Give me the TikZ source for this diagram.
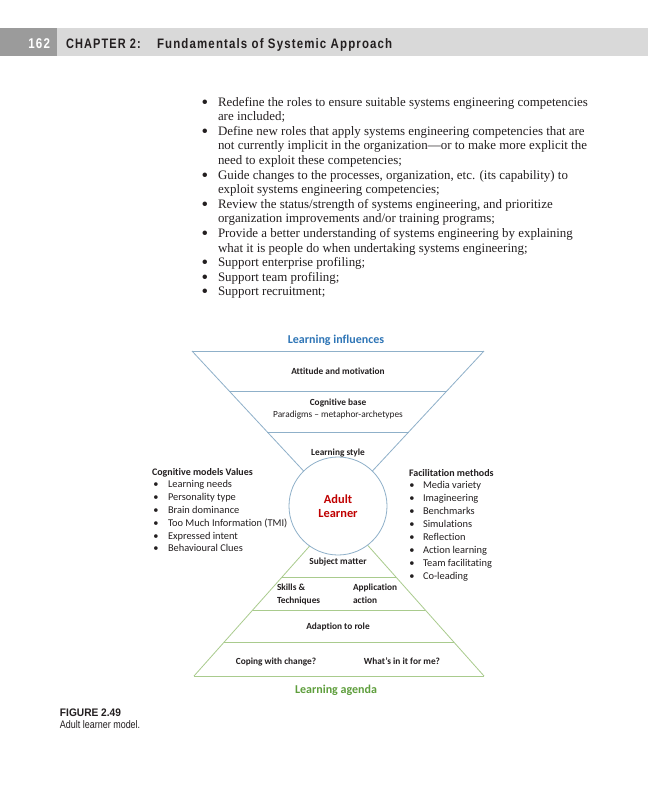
\documentclass[tikz,border=0pt]{standalone}
\usepackage{fontspec}
\setmainfont{Liberation Serif}
\newfontfamily\carl[Ligatures=NoCommon]{Carlito}
\newfontfamily\hdrfont[LetterSpace=10]{Liberation Sans}
\newfontfamily\capfont{Liberation Sans}
\definecolor{hdrdark}{HTML}{9B9B9B}
\definecolor{hdrlight}{HTML}{D9D9D9}
\definecolor{ink}{HTML}{231F20}
\definecolor{titleblue}{HTML}{2E75B6}
\definecolor{adultred}{HTML}{C00000}
\definecolor{agendagreen}{HTML}{5E9E3C}
\definecolor{topline}{HTML}{8FB0C9}
\definecolor{botline}{HTML}{A9CB8D}
\tikzset{
  txt/.style={inner sep=0pt, outer sep=0pt, text=ink},
  bodyline/.style={txt, anchor=base west, text height=6.8pt, text depth=1.8pt, font=\fontsize{9.7}{11}\selectfont},
  bodybullet/.style={txt, anchor=base, text height=6.8pt, text depth=1.8pt, font=\fontsize{9.7}{11}\selectfont},
  lab/.style={txt, anchor=base, font=\carl\bfseries\fontsize{7}{8}\selectfont},
  labw/.style={txt, anchor=base west, font=\carl\bfseries\fontsize{7}{8}\selectfont},
  labreg/.style={txt, anchor=base, font=\carl\fontsize{7}{8}\selectfont},
  listtitle/.style={txt, anchor=base west, font=\carl\bfseries\fontsize{7.5}{8}\selectfont},
  listitem/.style={txt, anchor=base west, text height=5.4pt, text depth=1.5pt, font=\carl\fontsize{7.8}{8}\selectfont},
  listbullet/.style={txt, anchor=base, text height=5.4pt, text depth=1.5pt, font=\carl\fontsize{7.8}{8}\selectfont},
  bigtitle/.style={inner sep=0pt, anchor=base, font=\carl\bfseries\fontsize{9}{10}\selectfont},
  tline/.style={draw=topline, line width=0.6pt},
  gline/.style={draw=botline, line width=0.6pt},
}
\newcommand{\bigbul}{\raisebox{-0.35ex}{\scalebox{1.45}{\textbullet}}}
\begin{document}
\begin{tikzpicture}[x=0.75pt,y=-0.75pt]
\useasboundingbox (0,0) rectangle (648,800);
\fill[white] (0,0) rectangle (648,800);
% header
\fill[hdrlight] (0,28) rectangle (648,56);
\fill[hdrdark] (0,28) rectangle (57,56);
\node[txt, anchor=base east, text=white] (pg) at (50,48.5) {\scalebox{0.82}[1]{\hdrfont\bfseries\fontsize{10.6}{12}\selectfont 162}};
\node[txt, anchor=base west] (chap) at (66,48.5) {\scalebox{0.8}[1]{\hdrfont\bfseries\fontsize{10.3}{12}\selectfont CHAPTER 2:}};
\node[txt, anchor=base west] (ctitle) at (157,48.5) {\scalebox{0.835}[1]{\hdrfont\bfseries\fontsize{10.3}{12}\selectfont Fundamentals of Systemic Approach}};
% body bullets
\node[bodybullet] (b1) at (205,106) {\bigbul};
\node[bodyline] (l1) at (218,106) {Redefine the roles to ensure suitable systems engineering competencies};
\node[bodyline] (l2) at (218,120.6) {are included;};
\node[bodybullet] (b2) at (205,135.2) {\bigbul};
\node[bodyline] (l3) at (218,135.2) {Define new roles that apply systems engineering competencies that are};
\node[bodyline] (l4) at (218,149.8) {not currently implicit in the organization---or to make more explicit the};
\node[bodyline] (l5) at (218,164.4) {need to exploit these competencies;};
\node[bodybullet] (b3) at (205,179) {\bigbul};
\node[bodyline] (l6) at (218,179) {Guide changes to the processes, organization, etc. (its capability) to};
\node[bodyline] (l7) at (218,193.6) {exploit systems engineering competencies;};
\node[bodybullet] (b4) at (205,208.2) {\bigbul};
\node[bodyline] (l8) at (218,208.2) {Review the status/strength of systems engineering, and prioritize};
\node[bodyline] (l9) at (218,222.8) {organization improvements and/or training programs;};
\node[bodybullet] (b5) at (205,237.4) {\bigbul};
\node[bodyline] (l10) at (218,237.4) {Provide a better understanding of systems engineering by explaining};
\node[bodyline] (l11) at (218,252) {what it is people do when undertaking systems engineering;};
\node[bodybullet] (b6) at (205,266.6) {\bigbul};
\node[bodyline] (l12) at (218,266.6) {Support enterprise profiling;};
\node[bodybullet] (b7) at (205,281.2) {\bigbul};
\node[bodyline] (l13) at (218,281.2) {Support team profiling;};
\node[bodybullet] (b8) at (205,295.8) {\bigbul};
\node[bodyline] (l14) at (218,295.8) {Support recruitment;};
% diagram geometry
\coordinate (TL) at (192,351);
\coordinate (TR) at (484,351);
\coordinate (TA) at (338,508);
\coordinate (T1L) at (229.2,391);
\coordinate (T1R) at (446.8,391);
\coordinate (T2L) at (267,432);
\coordinate (T2R) at (409,432);
\coordinate (BL) at (194,676);
\coordinate (BR) at (484,676);
\coordinate (BA) at (339,513);
\coordinate (B1L) at (224.2,642);
\coordinate (B1R) at (453.8,642);
\coordinate (B2L) at (252.7,610);
\coordinate (B2R) at (425.3,610);
\coordinate (B3L) at (282,577);
\coordinate (B3R) at (396,577);
\draw[tline] (TL) -- (TR);
\draw[tline] (TL) -- (TA);
\draw[tline] (TR) -- (TA);
\draw[tline] (T1L) -- (T1R);
\draw[tline] (T2L) -- (T2R);
\draw[gline] (BL) -- (BR);
\draw[gline] (BL) -- (BA);
\draw[gline] (BR) -- (BA);
\draw[gline] (B1L) -- (B1R);
\draw[gline] (B2L) -- (B2R);
\draw[gline] (B3L) -- (B3R);
\node[circle, draw=topline, line width=0.6pt, fill=white, minimum size=73.5pt, inner sep=0pt,
      align=center, text=adultred, font=\carl\bfseries\fontsize{9.3}{10.5}\selectfont] (circ) at (338,506) {Adult\\Learner};
% labels
\node[bigtitle, text=titleblue] (infl) at (336,343) {Learning influences};
\node[lab] (att) at (338,374) {Attitude and motivation};
\node[lab] (cog) at (338,405) {Cognitive base};
\node[labreg] (par) at (338,417) {Paradigms – metaphor-archetypes};
\node[lab] (lst) at (338,455) {Learning style};
\node[lab] (subj) at (338,564) {Subject matter};
\node[labw] (sk1) at (277,590) {Skills \&};
\node[labw] (sk2) at (277,603) {Techniques};
\node[labw] (ap1) at (353,590) {Application};
\node[labw] (ap2) at (353,603) {action};
\node[lab] (adap) at (338,629) {Adaption to role};
\node[lab] (cope) at (276,664) {Coping with change?};
\node[lab] (what) at (402,664) {What’s in it for me?};
\node[bigtitle, text=agendagreen] (agenda) at (336,693) {Learning agenda};
% left list
\node[listtitle] (cmv) at (152,475) {Cognitive models Values};
\foreach \t [count=\i] in {Learning needs,Personality type,Brain dominance,Too Much Information (TMI),Expressed intent,Behavioural Clues}{
  \node[listbullet] (lb\i) at (156,475+12.8*\i) {•};
  \node[listitem] (li\i) at (168,475+12.8*\i) {\t};
}
% right list
\node[listtitle] (fm) at (409,476) {Facilitation methods};
\foreach \t [count=\i] in {Media variety,Imagineering,Benchmarks,Simulations,Reflection,Action learning,Team facilitating,Co-leading}{
  \node[listbullet] (rb\i) at (412,476+12.9*\i) {•};
  \node[listitem] (ri\i) at (423,476+12.9*\i) {\t};
}
% caption
\node[txt, anchor=base west] (figno) at (60,716) {\scalebox{0.93}[1]{\capfont\bfseries\fontsize{8.2}{9}\selectfont FIGURE 2.49}};
\node[txt, anchor=base west] (figcap) at (60,728) {\scalebox{0.82}[1]{\capfont\fontsize{8.2}{9}\selectfont Adult learner model.}};
\end{tikzpicture}
\end{document}
